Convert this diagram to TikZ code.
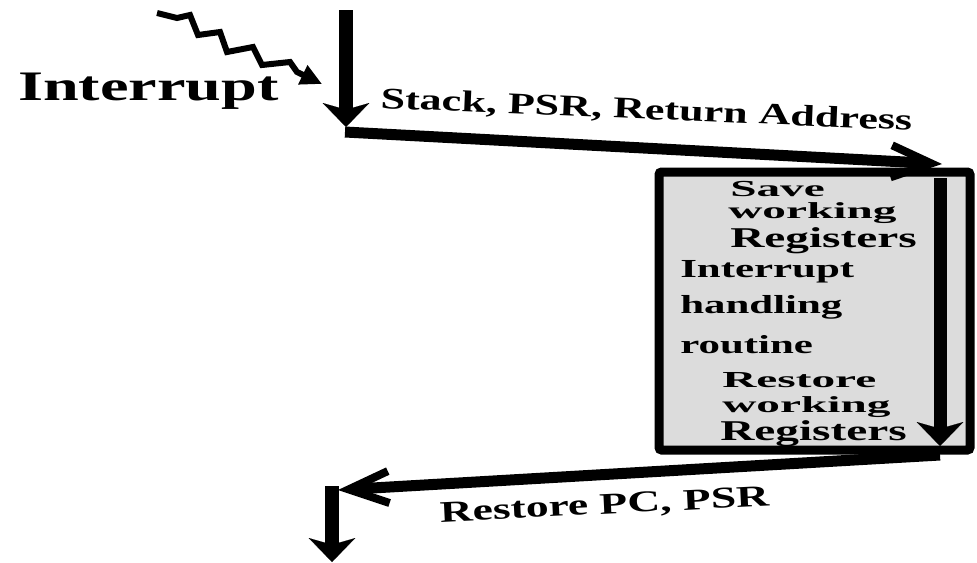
\documentclass[tikz,border=0pt]{standalone}
\usepackage{fontspec}
\setmainfont{Liberation Serif}
\usepackage{graphicx}
\usetikzlibrary{arrows.meta}

\newcommand{\widetext}[3]{\scalebox{#1}[#2]{#3}}

\tikzset{
  txt/.style={inner sep=0pt, anchor=base west, font=\bfseries},
  bigtxt/.style={txt, font=\fontsize{31.5}{36}\selectfont\bfseries},
  flowtxt/.style={txt, font=\fontsize{22.5}{26}\selectfont\bfseries},
  boxtxt/.style={txt, font=\fontsize{21.5}{24}\selectfont\bfseries},
  midtxt/.style={txt, font=\fontsize{19.5}{22}\selectfont\bfseries},
  downarr/.style={line width=10.5pt, -{Stealth[length=18pt,width=35pt,inset=5pt,line width=0.1pt]}},
  flowarr/.style={line width=8.25pt, -{Straight Barb[length=30pt,width=24pt,line width=6pt]}},
}

\begin{document}
\begin{tikzpicture}[x=0.75pt,y=0.75pt,yscale=-1,xscale=1]
\useasboundingbox (0,0) rectangle (977,562);

% Coordinates
\coordinate (sig) at (157,13);
\coordinate (sigend) at (322,84);
\coordinate (src) at (346,10);
\coordinate (entry) at (346,127);
\coordinate (push) at (345,132);
\coordinate (handin) at (942,164);
\coordinate (htop) at (940,178);
\coordinate (hbot) at (940,446);
\coordinate (hout) at (940,455);
\coordinate (ret) at (338,490);
\coordinate (rtop) at (332,486);
\coordinate (rend) at (332,562);

%Shape: Rectangle
\draw [line width=6.75pt, rounded corners=2pt, fill={rgb, 255:red, 220; green, 220; blue, 220 }] (659,172) rectangle (970,450);

%Zigzag
\draw [line width=4.5pt, -{Triangle[length=16pt,width=15pt]}] (sig) -- (177,18) -- (190,15) -- (198,35) -- (220,32) -- (227,52) -- (253,47) -- (262,65) -- (290,62) -- (297,72) -- (sigend);

%Straight Lines
\draw [downarr] (src) -- (entry);
%Straight Lines
\draw [flowarr] (push) -- (handin);
%Straight Lines
\draw [downarr, line width=9.75pt] (htop) -- (hbot);
%Straight Lines
\draw [flowarr] (hout) -- (ret);
%Straight Lines
\draw [downarr, line width=11pt] (rtop) -- (rend);

% Text Node
\node (intlbl) [bigtxt] at (18,100) {\widetext{1.53}{1}{Interrupt}};
% Text Node
\node (pushlbl) [flowtxt, rotate=-2.4] at (380,108) {\widetext{1.47}{1}{Stack, PSR, Return Address}};
% Text Node
\node (retlbl) [flowtxt, rotate=2.8] at (440,522) {\widetext{1.52}{1}{Restore PC, PSR}};

% Text Node
\node (save1) [boxtxt] at (730,196) {\widetext{1.65}{0.8}{Save}};
% Text Node
\node (save2) [boxtxt] at (728,218) {\widetext{1.65}{0.8}{working}};
% Text Node
\node (save3) [boxtxt] at (730,247) {\widetext{1.65}{1}{Registers}};
% Text Node
\node (rout1) [midtxt] at (680,277) {\widetext{1.65}{1}{Interrupt}};
% Text Node
\node (rout2) [midtxt] at (680,313) {\widetext{1.65}{1}{handling}};
% Text Node
\node (rout3) [midtxt] at (680,353) {\widetext{1.65}{1}{routine}};
% Text Node
\node (rest1) [boxtxt] at (722,387) {\widetext{1.65}{0.8}{Restore}};
% Text Node
\node (rest2) [boxtxt] at (722,412) {\widetext{1.65}{0.8}{working}};
% Text Node
\node (rest3) [boxtxt] at (720,440) {\widetext{1.65}{1}{Registers}};

\end{tikzpicture}
\end{document}
